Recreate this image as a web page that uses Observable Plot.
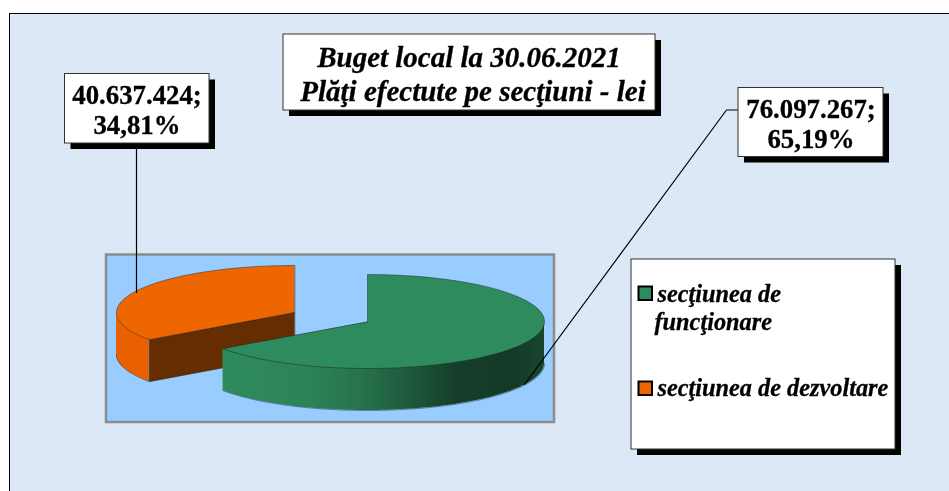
<!DOCTYPE html>
<html>
<head>
<meta charset="utf-8">
<style>html,body{margin:0;padding:0;background:#fff;overflow:hidden}svg{display:block}</style>
<script src="https://cdn.jsdelivr.net/npm/d3@7"></script>
<script src="https://cdn.jsdelivr.net/npm/@observablehq/plot@0.6"></script>
</head>
<body>
<div id="chart"></div>
<script>
// ---- data ----
const sections = ["secţiunea de funcţionare", "secţiunea de dezvoltare"];
const amounts = [76097267, 40637424];
const amountLabels = ["76.097.267;", "40.637.424;"];
const percentLabels = ["65,19%", "34,81%"];
const titleLines = ["Buget local la 30.06.2021", "Plăţi efectute pe secţiuni - lei"];
const legendLines = [["secţiunea de", "funcţionare"], ["secţiunea de dezvoltare"]];

// ---- styling / layout ----
const F = "'Liberation Serif','Times New Roman',serif";
const C = {green: "#2E8B5E", orange: "#EE6600", orangeSide: "#E86000", brown: "#662E00", pageBg: "#DCE8F5", plotBg: "#99CCFF"};
const ry = 47, depth = 42;
const centers = [{x: 367, y: 321, rx: 177}, {x: 294, y: 312, rx: 178}];

// slices from the values
const pie = d3.pie().sort(null).value(d => d)(amounts);
const pt = (c, a) => ({x: c.x + c.rx * Math.sin(a), y: c.y - ry * Math.cos(a)});
const arc = (c, a0, a1, n = 90) => d3.range(n + 1).map(i => pt(c, a0 + (a1 - a0) * i / n));
const wedge = (c, s) => [{x: c.x, y: c.y}, ...arc(c, s.startAngle, s.endAngle)];
const side = (c, a0, a1) => arc(c, a0, a1).map(p => ({x: p.x, y1: p.y, y2: p.y + depth}));

const [gS, oS] = pie;
const oCenter = centers[1], gCenter = centers[0];
const oTip = pt(oCenter, oS.startAngle);
const cutFace = [
  {x: oCenter.x, y: oCenter.y}, {x: oTip.x, y: oTip.y},
  {x: oTip.x, y: oTip.y + depth}, {x: oCenter.x, y: oCenter.y + depth}
];

const boxes = [
  {x1: 283, x2: 655, y1: 34, y2: 110},
  {x1: 64.5, x2: 209, y1: 73.5, y2: 143},
  {x1: 738, x2: 883, y1: 87.5, y2: 156.5},
  {x1: 631, x2: 895, y1: 259, y2: 449}
];
const shadow = 6;

const gradient = () => {
  const defs = d3.create("svg:defs");
  const g = defs.append("linearGradient").attr("id", "greenSide");
  [[0, "#2E8B5E"], [0.25, "#2C8459"], [0.42, "#27744E"], [0.58, "#1E5A3C"], [0.72, "#163F2B"], [0.9, "#143A27"], [1, "#18452F"]]
    .forEach(([o, c]) => g.append("stop").attr("offset", o).attr("stop-color", c));
  return defs.node();
};

const edge = {stroke: "#1a1a1a", strokeOpacity: 0.55, strokeWidth: 0.8};
const txt = (t, x, y, size, italic, anchor = "middle") => Plot.text([t], {
  x: () => x, y: () => y, text: d => d, fontFamily: F, fontWeight: "bold", fontStyle: italic ? "italic" : "normal",
  fontSize: size, fill: "#000", stroke: "#000", strokeWidth: 0.3, textAnchor: anchor, lineAnchor: "bottom"
});

const chart = Plot.plot({
  width: 949, height: 491,
  margin: 0,
  x: {domain: [0, 949], range: [0, 949], axis: null},
  y: {domain: [0, 491], range: [0, 491], axis: null},
  style: {background: "#fff"},
  marks: [
    gradient,
    // page panel
    Plot.rect([{}], {x1: () => 9.5, x2: () => 955, y1: () => 13.5, y2: () => 497, fill: C.pageBg, stroke: "#000", strokeWidth: 1}),
    // plot area
    Plot.rect([{}], {x1: () => 106, x2: () => 554, y1: () => 254.5, y2: () => 422, fill: C.plotBg, stroke: "#8C8C8C", strokeWidth: 2.5}),
    // orange slice
    Plot.areaY(side(oCenter, oS.startAngle, 3 * Math.PI / 2), {x: "x", y1: "y1", y2: "y2", fill: C.orangeSide}),
    Plot.line(cutFace, {x: "x", y: "y", fill: C.brown, curve: "linear-closed", ...edge}),
    Plot.line(side(oCenter, oS.startAngle, 3 * Math.PI / 2), {x: "x", y: "y2", ...edge}),
    Plot.line(wedge(oCenter, oS), {x: "x", y: "y", fill: C.orange, curve: "linear-closed", ...edge}),
    // green slice
    Plot.areaY(side(gCenter, Math.PI / 2, gS.endAngle), {x: "x", y1: "y1", y2: "y2", fill: "url(#greenSide)"}),
    Plot.line(side(gCenter, Math.PI / 2, gS.endAngle), {x: "x", y: "y2", ...edge}),
    Plot.line(wedge(gCenter, gS), {x: "x", y: "y", fill: C.green, curve: "linear-closed", ...edge}),
    // leaders
    Plot.line([{x: 136, y: 148}, {x: 136, y: 292}], {x: "x", y: "y", stroke: "#000", strokeWidth: 1.2}),
    Plot.line([{x: 738, y: 109.5}, {x: 726, y: 109.5}, {x: 524, y: 384}], {x: "x", y: "y", stroke: "#000", strokeWidth: 1.2}),
    // boxes
    Plot.rect(boxes, {x1: d => d.x1 + shadow, x2: d => d.x2 + shadow, y1: d => d.y1 + shadow, y2: d => d.y2 + shadow, fill: "#000"}),
    Plot.rect(boxes, {x1: "x1", x2: "x2", y1: "y1", y2: "y2", fill: "#fff", stroke: "#333", strokeWidth: 1}),
    // title
    txt(titleLines[0], 468.5, 66, 29, true),
    txt(titleLines[1], 472.5, 100, 29, true),
    // data labels
    txt(amountLabels[1], 136.5, 103, 26.8, false),
    txt(percentLabels[1], 136.5, 133, 26.8, false),
    txt(amountLabels[0], 810.5, 117, 26.8, false),
    txt(percentLabels[0], 810.5, 147, 26.8, false),
    // legend
    Plot.rect([C.green, C.orange], {
      x1: () => 638.5, x2: () => 652, y1: (d, i) => [286.5, 381.5][i], y2: (d, i) => [300, 395][i],
      fill: d => d, stroke: "#000", strokeWidth: 2
    }),
    txt(legendLines[0][0], 657, 301, 24.3, true, "start"),
    txt(legendLines[0][1], 654, 329, 24.3, true, "start"),
    txt(legendLines[1][0], 657, 395.5, 24.3, true, "start")
  ]
});
chart.setAttribute("style", (chart.getAttribute("style") || "") + ";filter:blur(0.35px)");
document.getElementById("chart").appendChild(chart);
</script>
</body>
</html>
